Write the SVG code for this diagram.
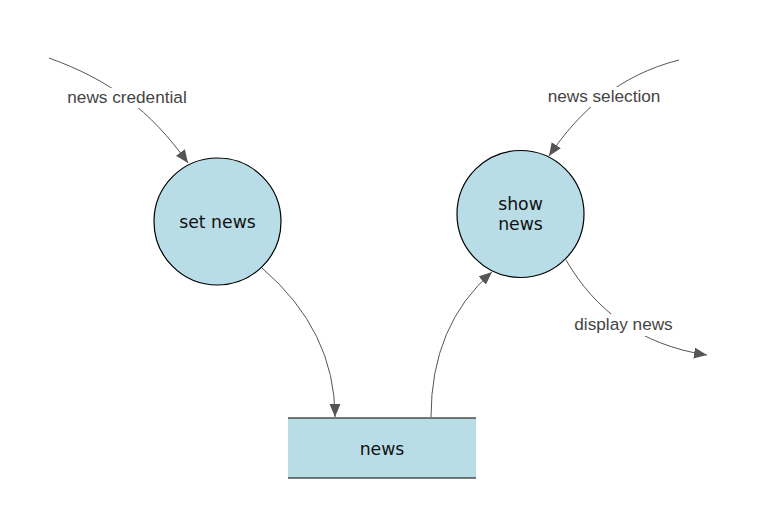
<svg xmlns="http://www.w3.org/2000/svg" width="765" height="505" viewBox="0 0 765 505">
<style>
.proc{fill:#b9dde7;stroke:#000;stroke-width:1.2}
.store{fill:#b9dde7;stroke:none}
.sline{stroke:#4d4d4d;stroke-width:1.5}
.edge{fill:none;stroke:#555;stroke-width:1}
.nt{font-family:"DejaVu Sans",Verdana,sans-serif;font-size:17.3px;fill:#111;text-anchor:middle}
.lt{font-family:"Liberation Sans",Arial,sans-serif;font-size:17.2px;fill:#444;text-anchor:middle}
.lbg{fill:#fff}
</style>
<defs>
<marker id="arr" markerUnits="userSpaceOnUse" markerWidth="15" markerHeight="12" refX="13" refY="5.5" orient="auto">
<path d="M0,0 L13,5.5 L0,11 Z" fill="#555"/>
</marker>
</defs>
<rect width="765" height="505" fill="#fff"/>
<g id="connectors">
<path class="edge" d="M49,58 C110,80 150,110 188,163" marker-end="url(#arr)"/>
<path class="edge" d="M679,60 C620,75 580,110 549,156" marker-end="url(#arr)"/>
<path class="edge" d="M262,268 Q335,331 335,417" marker-end="url(#arr)"/>
<path class="edge" d="M431,417 Q431,325 492,272" marker-end="url(#arr)"/>
<path class="edge" d="M566,260 C595,310 640,345 707,355" marker-end="url(#arr)"/>
<rect class="lbg" x="64" y="88" width="127" height="20"/>
<text class="lt" x="127" y="103">news credential</text>
<rect class="lbg" x="544" y="87" width="120" height="20"/>
<text class="lt" x="604" y="102">news selection</text>
<rect class="lbg" x="570" y="314" width="107" height="22"/>
<text class="lt" x="623.5" y="330">display news</text>
</g>
<g id="set-news">
<circle class="proc" cx="217.5" cy="221.5" r="63.5"/>
<text class="nt" x="217.5" y="228">set news</text>
</g>
<g id="show-news">
<circle class="proc" cx="520.5" cy="214" r="63.5"/>
<text class="nt" x="520.5" y="210">show</text>
<text class="nt" x="520.5" y="230">news</text>
</g>
<g id="news-store">
<rect class="store" x="288" y="418" width="188" height="60"/>
<line class="sline" x1="288" y1="418" x2="476" y2="418"/>
<line class="sline" x1="288" y1="478" x2="476" y2="478"/>
<text class="nt" x="382" y="455">news</text>
</g>
</svg>
